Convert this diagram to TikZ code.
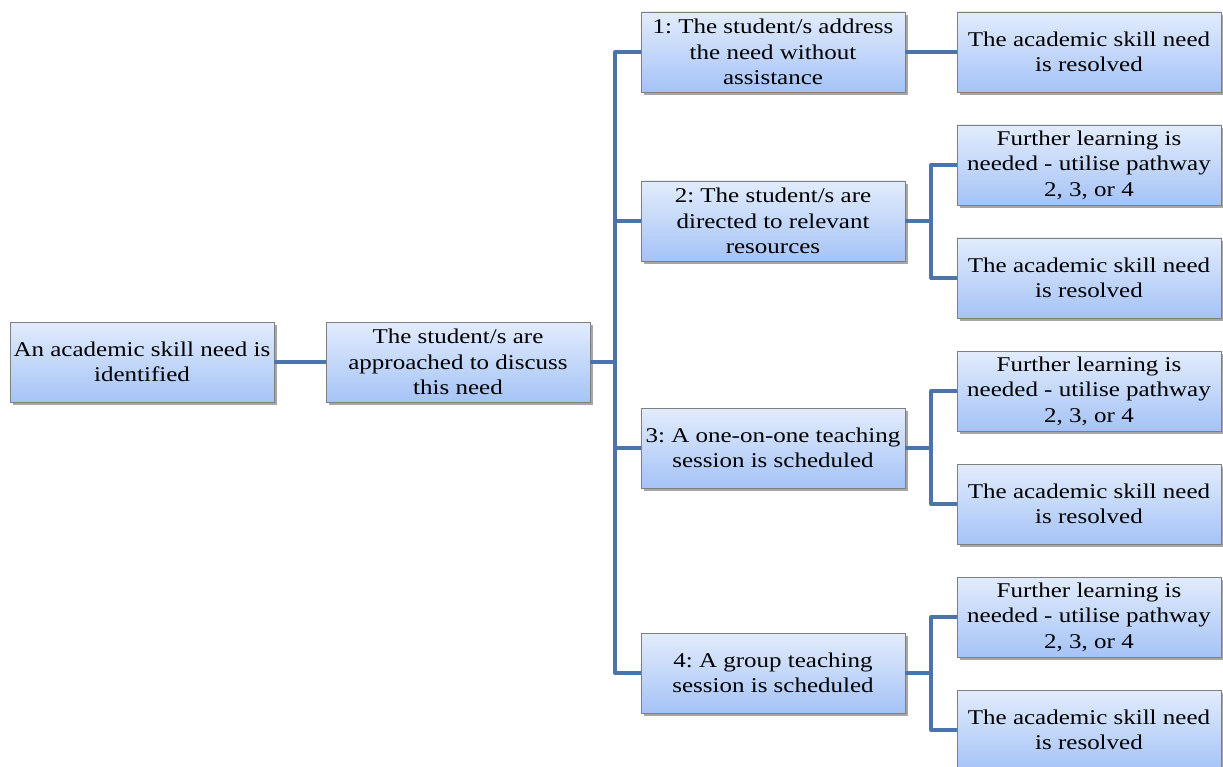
\documentclass[tikz,border=0pt]{standalone}
\usepackage{fontspec}
\setmainfont[FakeStretch=1.19]{Liberation Serif}
\frenchspacing
\usetikzlibrary{shadows,calc}
\definecolor{boxtop}{HTML}{E2ECFC}
\definecolor{boxbot}{HTML}{A5C3F6}
\definecolor{boxline}{HTML}{7F7F7F}
\definecolor{conn}{HTML}{4A74AA}
\tikzset{
  box/.style={rectangle, draw=boxline, line width=0.8pt, top color=boxtop, bottom color=boxbot,
    minimum width=264pt, minimum height=80pt, inner sep=0pt, align=center,
    font=\fontsize{21}{25.5}\selectfont,
    drop shadow={shadow xshift=2.5pt, shadow yshift=-3pt, opacity=0.35, fill=black}},
  link/.style={draw=conn, line width=4pt}
}
\begin{document}
\begin{tikzpicture}[x=1pt,y=-1pt]
\useasboundingbox (0,0) rectangle (1223,767);
\node[box] (A) at (142,362) {An academic skill need is\\identified};
\node[box] (B) at (458,362) {The student/s are\\approached to discuss\\this need};
\node[box] (P1) at (773,52) {1: The student/s address\\the need without\\assistance};
\node[box] (P2) at (773,221) {2: The student/s are\\directed to relevant\\resources};
\node[box] (P3) at (773,448) {3: A one-on-one teaching\\session is scheduled};
\node[box] (P4) at (773,673) {4: A group teaching\\session is scheduled};
\node[box] (R1) at (1089,52) {The academic skill need\\is resolved};
\node[box] (F2) at (1089,165) {Further learning is\\needed - utilise pathway\\2, 3, or 4};
\node[box] (R2) at (1089,278) {The academic skill need\\is resolved};
\node[box] (F3) at (1089,391) {Further learning is\\needed - utilise pathway\\2, 3, or 4};
\node[box] (R3) at (1089,504) {The academic skill need\\is resolved};
\node[box] (F4) at (1089,617) {Further learning is\\needed - utilise pathway\\2, 3, or 4};
\node[box] (R4) at (1089,730) {The academic skill need\\is resolved};
\coordinate (tB) at ($(B.east)+(25,0)$);
\coordinate (t2) at ($(P2.east)+(26,0)$);
\coordinate (t3) at ($(P3.east)+(26,0)$);
\coordinate (t4) at ($(P4.east)+(26,0)$);
\path[link] (A.east) -- (B.west);
\path[link] (B.east) -- (tB);
\path[link, line join=round] (tB) |- (P1.west);
\path[link] (tB) |- (P2.west);
\path[link] (tB) |- (P3.west);
\path[link, line join=round] (tB) |- (P4.west);
\path[link] (P1.east) -- (R1.west);
\path[link] (P2.east) -- (t2);
\path[link, line join=round] (t2) |- (F2.west);
\path[link, line join=round] (t2) |- (R2.west);
\path[link] (P3.east) -- (t3);
\path[link, line join=round] (t3) |- (F3.west);
\path[link, line join=round] (t3) |- (R3.west);
\path[link] (P4.east) -- (t4);
\path[link, line join=round] (t4) |- (F4.west);
\path[link, line join=round] (t4) |- (R4.west);
\end{tikzpicture}
\end{document}
